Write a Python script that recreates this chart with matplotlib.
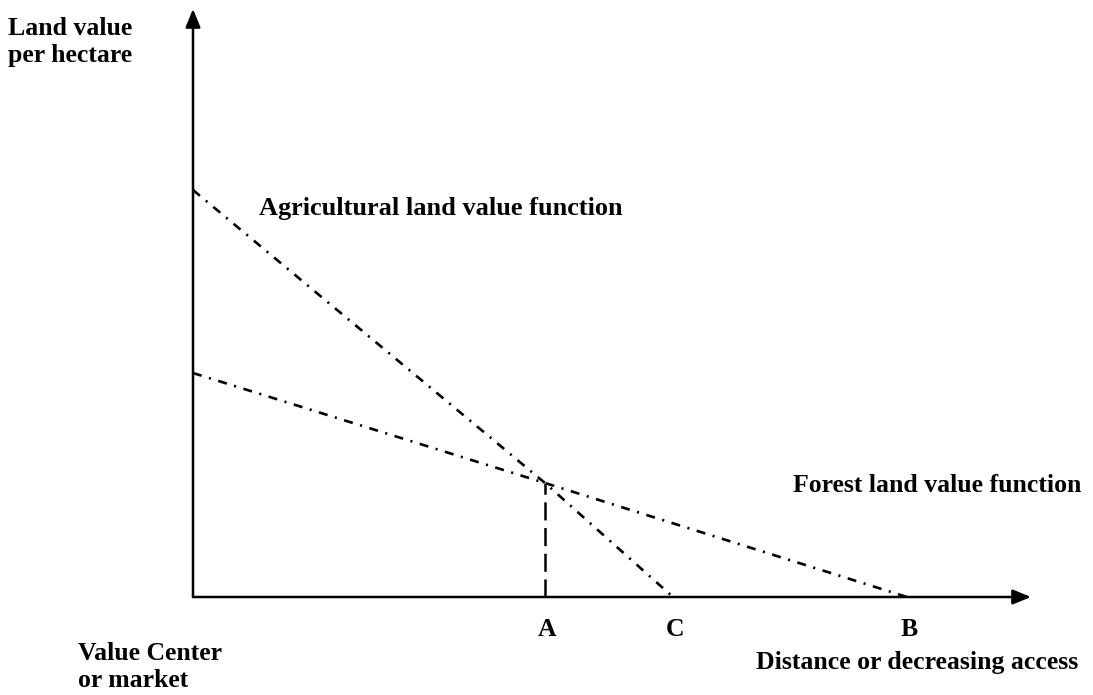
import matplotlib
matplotlib.use("Agg")
import matplotlib.pyplot as plt

plt.rcParams["font.family"] = ["Liberation Serif", "DejaVu Serif"]
plt.rcParams["lines.scale_dashes"] = False

# data (arbitrary units, origin = value center)
agri_x = [0, 352, 480]
agri_y = [407, 114, 0]
forest_x = [0, 352, 714]
forest_y = [224, 114, 0]
point_labels = ["A", "C", "B"]
point_x = [352, 480, 714]

fig = plt.figure(figsize=(10.93, 6.95), dpi=100)
ax = fig.add_axes([0, 0, 1, 1])
ax.set_xlim(-193, 900)
ax.set_ylim(-98, 597)
ax.axis("off")

# axes with arrows
ax.annotate("", xy=(838, 0), xytext=(0, 0),
            arrowprops=dict(arrowstyle="-|>,head_length=1.1,head_width=0.45",
                            lw=1.8, color="black", shrinkA=0, shrinkB=0))
ax.annotate("", xy=(0, 588), xytext=(0, 0),
            arrowprops=dict(arrowstyle="-|>,head_length=1.1,head_width=0.45",
                            lw=1.8, color="black", shrinkA=0, shrinkB=0))

ls = (0, (6.5, 5.5, 1.5, 5.5))
ax.plot(agri_x, agri_y, color="black", lw=1.9, linestyle=ls)
ax.plot(forest_x, forest_y, color="black", lw=1.9, linestyle=ls)

# dashed drop line at A
ax.plot([agri_x[1], agri_x[1]], [0, forest_y[1]], color="black", lw=1.8,
        linestyle=(0, (13, 5.5)))

fs = 18.5
for lab, x in zip(point_labels, point_x):
    ax.text(x + 2, -33, lab, fontsize=fs, fontweight="bold", ha="center", va="center")

ax.text(-185, 555, "Land value\nper hectare", fontsize=fs, fontweight="bold",
        ha="left", va="center", linespacing=1.2)
ax.text(66, 388, "Agricultural land value function", fontsize=18.9, fontweight="bold",
        ha="left", va="center")
ax.text(600, 112, "Forest land value function", fontsize=fs, fontweight="bold",
        ha="left", va="center")
ax.text(885, -65, "Distance or decreasing access", fontsize=fs, fontweight="bold",
        ha="right", va="center")
ax.text(-115, -70, "Value Center\nor market", fontsize=fs, fontweight="bold",
        ha="left", va="center", linespacing=1.22)

fig.savefig("out.png", dpi=100)
